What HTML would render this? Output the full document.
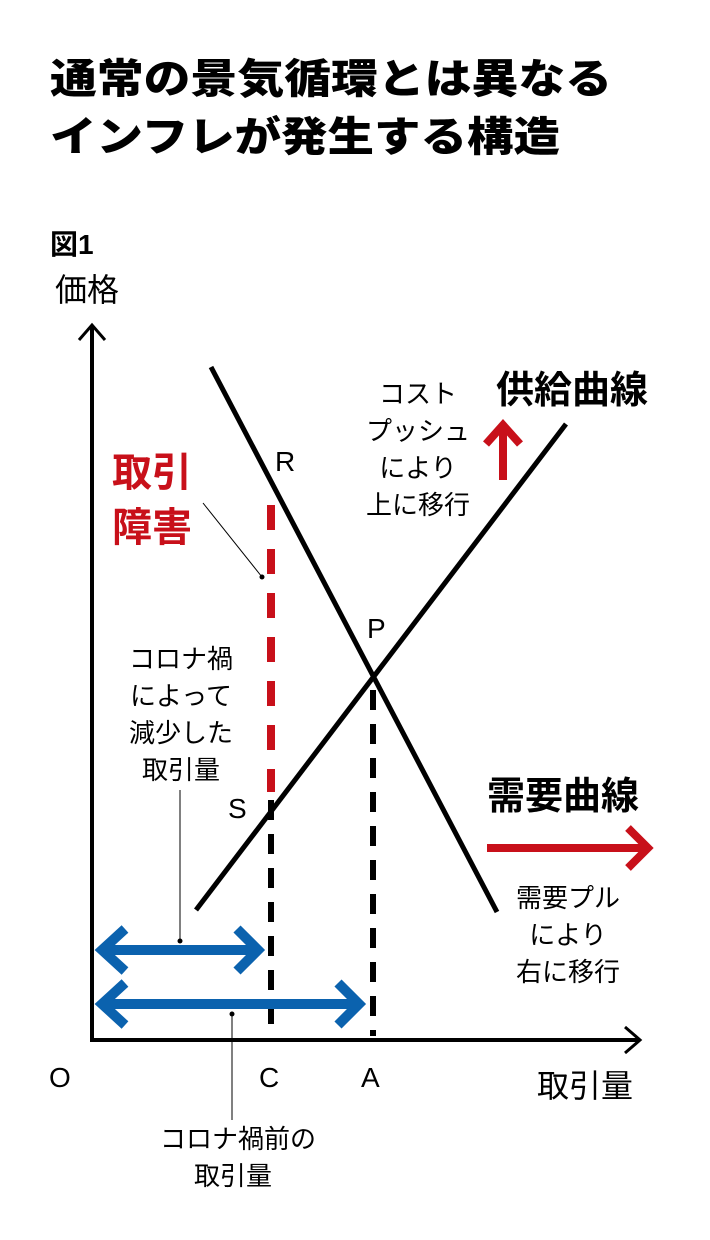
<!DOCTYPE html>
<html><head><meta charset="utf-8"><style>
body{margin:0;background:#fff;}
svg{display:block}
text{font-family:"Liberation Sans","Noto Sans CJK JP",sans-serif;}
</style></head><body>
<svg width="710" height="1240" viewBox="0 0 710 1240" xmlns="http://www.w3.org/2000/svg">
<g font-weight="900" font-size="41" fill="#000">
<text x="50" y="93" textLength="562" lengthAdjust="spacingAndGlyphs">通常の景気循環とは異なる</text>
<text x="50" y="151" textLength="510" lengthAdjust="spacingAndGlyphs">インフレが発生する構造</text>
</g>
<text x="50" y="254" font-size="28" font-weight="bold">図1</text>
<text x="55" y="301" font-size="32">価格</text>
<polyline points="92,325 92,1040 640,1040" fill="none" stroke="#000" stroke-width="4"/>
<polyline points="79,340 92,325 105,340" fill="none" stroke="#000" stroke-width="3"/>
<polyline points="625,1027 640,1040 625,1053" fill="none" stroke="#000" stroke-width="3"/>
<line x1="211" y1="367" x2="497" y2="912" stroke="#000" stroke-width="5"/>
<line x1="196" y1="910" x2="566" y2="424" stroke="#000" stroke-width="5"/>
<line x1="271" y1="505" x2="271" y2="792" stroke="#c8101a" stroke-width="8" stroke-dasharray="25,19"/>
<line x1="271" y1="800" x2="271" y2="1036" stroke="#000" stroke-width="6" stroke-dasharray="20,14"/>
<line x1="373" y1="690" x2="373" y2="1036" stroke="#000" stroke-width="6" stroke-dasharray="20,14"/>
<line x1="203" y1="503" x2="262" y2="577" stroke="#000" stroke-width="1"/>
<circle cx="262" cy="577" r="2.5"/>
<line x1="180" y1="790" x2="180" y2="941" stroke="#000" stroke-width="1"/>
<circle cx="180" cy="941" r="2.5"/>
<line x1="232" y1="1014" x2="232" y2="1120" stroke="#000" stroke-width="1"/>
<circle cx="232" cy="1014" r="2.5"/>
<g stroke="#0b62ae" stroke-width="10" fill="none">
<line x1="102" y1="950" x2="258" y2="950"/>
<polyline points="125,929 102,950 125,971"/>
<polyline points="237,929 258,950 237,971"/>
<line x1="102" y1="1004" x2="359" y2="1004"/>
<polyline points="125,983 102,1004 125,1025"/>
<polyline points="338,983 359,1004 338,1025"/>
</g>
<g stroke="#c8101a" stroke-width="8" fill="none">
<line x1="503" y1="480" x2="503" y2="426"/>
<polyline points="486,444 503,425 520,444"/>
<line x1="487" y1="848" x2="648" y2="848"/>
<polyline points="628,828 648,848 628,868"/>
</g>
<g font-size="28">
<text x="275" y="471">R</text>
<text x="367" y="638">P</text>
<text x="228" y="818">S</text>
<text x="49" y="1087">O</text>
<text x="259" y="1087">C</text>
<text x="361" y="1087">A</text>
</g>
<text x="537" y="1097" font-size="32">取引量</text>
<g font-size="26" text-anchor="middle">
<text x="418" y="403">コスト</text>
<text x="418" y="440">プッシュ</text>
<text x="418" y="477">により</text>
<text x="418" y="514">上に移行</text>
<text x="181" y="668">コロナ禍</text>
<text x="181" y="705">によって</text>
<text x="181" y="742">減少した</text>
<text x="181" y="779">取引量</text>
<text x="568" y="907">需要プル</text>
<text x="568" y="944">により</text>
<text x="568" y="981">右に移行</text>
<text x="238" y="1148">コロナ禍前の</text>
<text x="233" y="1185">取引量</text>
</g>
<g font-size="40" font-weight="bold" fill="#c8101a">
<text x="112" y="486">取引</text>
<text x="112" y="541">障害</text>
</g>
<g font-size="38" font-weight="bold">
<text x="496" y="403">供給曲線</text>
<text x="487" y="809">需要曲線</text>
</g>
</svg>
</body></html>
